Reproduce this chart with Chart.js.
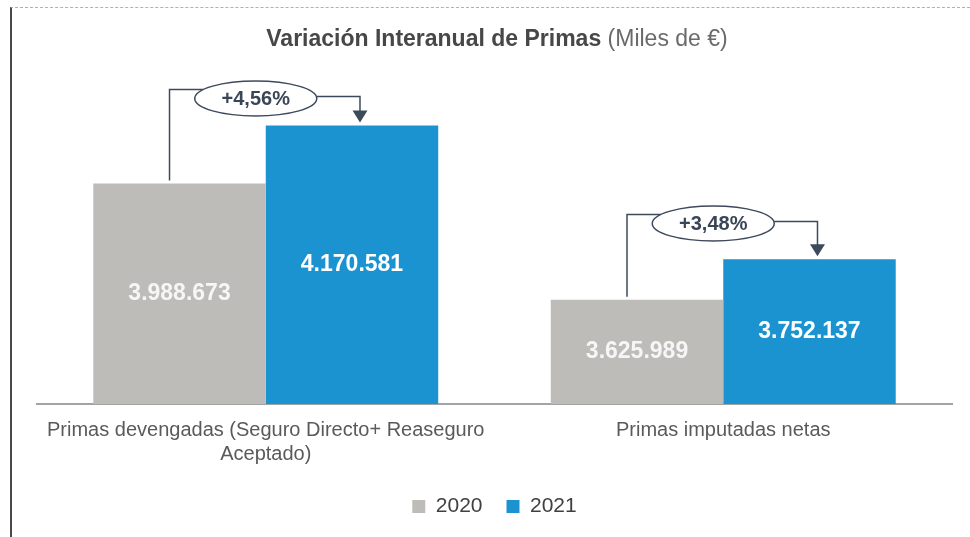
<!DOCTYPE html>
<html>
<head>
<meta charset="utf-8">
<script src="https://cdn.jsdelivr.net/npm/chart.js@4.4.1/dist/chart.umd.min.js"></script>
<style>
  html, body { margin: 0; padding: 0; background: #fff; }
  #wrap { position: relative; width: 970px; height: 537px; }
  #frame {
    position: absolute; left: 10px; top: 7px; width: 960px; height: 530px;
    border-top: 1px dashed #b0b0b0; border-left: 2px solid #4a4a4a;
    box-sizing: border-box; pointer-events: none;
  }
</style>
</head>
<body>
<div id="wrap">
  <canvas id="primasChart" width="970" height="537"></canvas>
  <div id="frame"></div>
</div>
<script>
// Data
const categories = [
    ['Primas devengadas (Seguro Directo+ Reaseguro', 'Aceptado)'],
    'Primas imputadas netas'
];
const seriesNames = ['2020', '2021'];
const values2020 = [3988673, 3625989];
const values2021 = [4170581, 3752137];

const FONT = "'Liberation Sans', Arial, sans-serif";
const GREY = '#bdbcb8';
const BLUE = '#1b93d1';
const DARK = '#3d4a5c';

function fmtMiles(n) {
    return String(n).replace(/\B(?=(\d{3})+(?!\d))/g, '.');
}

// Title with bold + normal parts
const titlePlugin = {
    id: 'splitTitle',
    afterDraw(chart) {
        const ctx = chart.ctx;
        const a = 'Variación Interanual de Primas ';
        const b = '(Miles de €)';
        ctx.save();
        ctx.textBaseline = 'middle';
        ctx.font = 'bold 23px ' + FONT;
        const wa = ctx.measureText(a).width;
        ctx.font = '23px ' + FONT;
        const wb = ctx.measureText(b).width;
        let x = 497 - (wa + wb) / 2;
        ctx.textAlign = 'left';
        ctx.font = 'bold 23px ' + FONT;
        ctx.fillStyle = '#474747';
        ctx.fillText(a, x, 40);
        ctx.font = '23px ' + FONT;
        ctx.fillStyle = '#6a6a6a';
        ctx.fillText(b, x + wa, 40);
        ctx.restore();
    }
};

// Value labels inside bars + variation callouts
const barLabels = {
    id: 'barLabels',
    afterDatasetsDraw(chart) {
        const ctx = chart.ctx;
        const m0 = chart.getDatasetMeta(0);
        const m1 = chart.getDatasetMeta(1);
        const base = chart.scales.y.getPixelForValue(chart.scales.y.min);
        ctx.save();
        // values
        ctx.textAlign = 'center';
        ctx.textBaseline = 'middle';
        ctx.font = 'bold 23px ' + FONT;
        [m0, m1].forEach((meta, di) => {
            meta.data.forEach((bar, i) => {
                const v = chart.data.datasets[di].data[i];
                ctx.fillStyle = di === 0 ? '#f6f6f6' : '#ffffff';
                ctx.fillText(fmtMiles(v), bar.x, (bar.y + base) / 2);
            });
        });
        // callouts
        m0.data.forEach((b0, i) => {
            const b1 = m1.data[i];
            const x0 = b0.x - 10;
            const x1 = b1.x + 8;
            const cx = (b0.x + b1.x) / 2 - 10;
            const cy = (b0.y + b1.y) / 2 - 56;
            const rx = 61, ry = 17.5;
            const yl = cy - 9, yr = cy - 2;
            const dxl = rx * Math.sqrt(1 - Math.pow((yl - cy) / ry, 2));
            const dxr = rx * Math.sqrt(1 - Math.pow((yr - cy) / ry, 2));
            ctx.strokeStyle = DARK;
            ctx.lineWidth = 1.5;
            ctx.beginPath();
            ctx.moveTo(x0, b0.y - 3);
            ctx.lineTo(x0, yl);
            ctx.lineTo(cx - dxl, yl);
            ctx.stroke();
            ctx.beginPath();
            ctx.moveTo(cx + dxr, yr);
            ctx.lineTo(x1, yr);
            ctx.lineTo(x1, b1.y - 12);
            ctx.stroke();
            ctx.fillStyle = DARK;
            ctx.beginPath();
            ctx.moveTo(x1 - 7.5, b1.y - 15);
            ctx.lineTo(x1 + 7.5, b1.y - 15);
            ctx.lineTo(x1, b1.y - 3);
            ctx.closePath();
            ctx.fill();
            ctx.beginPath();
            ctx.ellipse(cx, cy, rx, ry, 0, 0, Math.PI * 2);
            ctx.fillStyle = '#fff';
            ctx.fill();
            ctx.stroke();
            const v0 = chart.data.datasets[0].data[i];
            const v1 = chart.data.datasets[1].data[i];
            const pct = '+' + ((v1 / v0 - 1) * 100).toFixed(2).replace('.', ',') + '%';
            ctx.fillStyle = '#3a4556';
            ctx.font = 'bold 20px ' + FONT;
            ctx.fillText(pct, cx, cy + 1);
        });
        ctx.restore();
    }
};

const ctx = document.getElementById('primasChart').getContext('2d');
const primasChart = new Chart(ctx, {
    type: 'bar',
    data: {
        labels: categories,
        datasets: [
            {
                label: seriesNames[0],
                data: values2020,
                backgroundColor: GREY,
                categoryPercentage: 0.754,
                barPercentage: 1.0
            },
            {
                label: seriesNames[1],
                data: values2021,
                backgroundColor: BLUE,
                categoryPercentage: 0.754,
                barPercentage: 1.0
            }
        ]
    },
    options: {
        responsive: false,
        animation: false,
        layout: { padding: { left: 37, right: 18, top: 84, bottom: 10 } },
        plugins: {
            legend: {
                position: 'bottom',
                labels: {
                    color: '#404040',
                    font: { family: FONT, size: 21 },
                    boxWidth: 13,
                    boxHeight: 13,
                    padding: 24
                }
            },
            tooltip: { enabled: false }
        },
        scales: {
            y: {
                display: false,
                min: 3300000,
                max: 4300000
            },
            x: {
                grid: { display: false },
                border: { display: true, color: '#a3a3a3', width: 2 },
                ticks: {
                    color: '#5a5a5a',
                    font: { family: FONT, size: 20 },
                    maxRotation: 0,
                    autoSkip: false,
                    padding: 6
                }
            }
        }
    },
    plugins: [titlePlugin, barLabels]
});
</script>
</body>
</html>
